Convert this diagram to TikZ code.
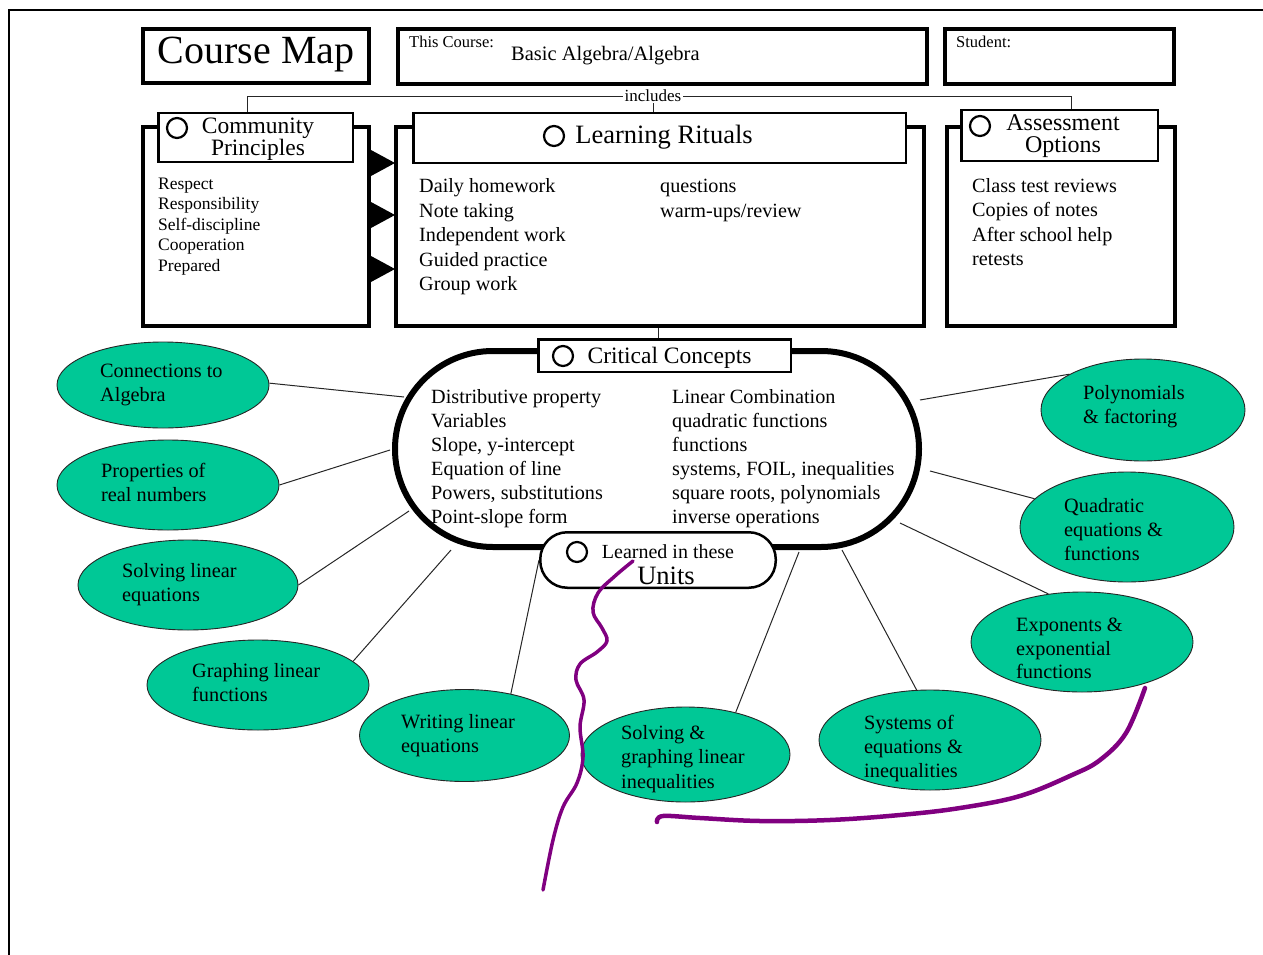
\documentclass[tikz,border=0pt]{standalone}
\usepackage{fontspec}
\setmainfont{Liberation Serif}
\usetikzlibrary{shapes.geometric}
\definecolor{ellfill}{HTML}{00C896}
\definecolor{inkpurple}{HTML}{800080}
\newcommand\fsz[2]{\fontsize{#1}{#2}\selectfont}
\begin{document}
\begin{tikzpicture}[x=1pt,y=-1pt,
  outerbox/.style={draw, line width=4pt, fill=white, inner sep=0},
  hdrbox/.style={draw, line width=2.5pt, fill=white, inner sep=0},
  ring/.style={draw, circle, line width=2.2pt, minimum size=20pt, inner sep=0},
  ell/.style={ellipse, draw=black!85, line width=0.9pt, fill=ellfill, inner sep=0},
  link/.style={draw=black!85, line width=1pt},
  ink/.style={draw=inkpurple, line cap=round, line join=round},
  txt/.style={inner sep=0, anchor=north west, align=left},
  ttl/.style={inner sep=0, align=center},
  tri/.style={fill=black}
]
\useasboundingbox (0,0) rectangle (1263,955);
% page border
\coordinate (pgTR) at (1263,10);
\coordinate (pgTL) at (9,10);
\coordinate (pgBL) at (9,955);
\draw[line width=2pt] (pgTR) -- (pgTL) -- (pgBL);

% top row
\node[outerbox, minimum width=226pt, minimum height=54pt] (cmap) at (256,56) {};
\node[ttl, font=\fsz{40}{44}] (cmapT) at (256,55) {Course Map};
\node[outerbox, minimum width=529pt, minimum height=55pt] (course) at (662.5,56.5) {};
\node[inner sep=0, anchor=base west, font=\fsz{16.5}{18}] (courseL) at (409,47.5) {This Course:};
\node[inner sep=0, anchor=base west, font=\fsz{20.5}{22}] (courseV) at (511,61) {Basic Algebra/Algebra};
\node[outerbox, minimum width=229pt, minimum height=55pt] (student) at (1059.5,56.5) {};
\node[inner sep=0, anchor=base west, font=\fsz{16.5}{18}] (studentL) at (956,47.5) {Student:};

% three boxes
\node[outerbox, minimum width=226pt, minimum height=199pt] (cpBox) at (256,226.5) {};
\node[outerbox, minimum width=528pt, minimum height=199pt] (lrBox) at (660,226.5) {};
\node[outerbox, minimum width=228pt, minimum height=199pt] (aoBox) at (1061,226.5) {};
\node[hdrbox, minimum width=194.5pt, minimum height=48.5pt] (cpHead) at (255.5,137.5) {};
\node[hdrbox, minimum width=492.5pt, minimum height=49.5pt] (lrHead) at (659.5,138) {};
\node[hdrbox, minimum width=196.5pt, minimum height=50.5pt] (aoHead) at (1059.5,135.5) {};

% includes bus
\coordinate (busL) at (247,97);
\coordinate (busR) at (1071,97);
\draw[link] (cpHead.north -| busL) -- (busL) -- (busR) -- (aoHead.north -| busR);
\draw[link] (lrHead.north -| 653,0) -- (653,97);
\node[fill=white, inner sep=2pt, font=\fsz{17}{19}] (incl) at (653,95.5) {includes};

% header contents
\node[ring] (cpRing) at (177,128) {};
\node[ttl, font=\fsz{23.5}{22}] (cpTitle) at (258,139) {Community\\Principles};
\node[ring] (lrRing) at (554,136) {};
\node[ttl, font=\fsz{26.5}{28}] (lrTitle) at (664,137) {Learning Rituals};
\node[ring] (aoRing) at (980,126) {};
\node[ttl, font=\fsz{24}{22}] (aoTitle) at (1063,136.5) {Assessment\\Options};

% lists
\node[txt, font=\fsz{17.5}{20.5}] (cpList) at (158,174.5) {\strut Respect\\Responsibility\\Self-discipline\\Cooperation\\Prepared};
\node[txt, font=\fsz{20.2}{24.5}] (lrListA) at (419,175.3) {\strut Daily homework\\Note taking\\Independent work\\Guided practice\\Group work};
\node[txt, font=\fsz{20.2}{24.5}] (lrListB) at (660,175.3) {\strut questions\\warm-ups/review};
\node[txt, font=\fsz{20.2}{24.4}] (aoList) at (972,175.3) {\strut Class test reviews\\Copies of notes\\After school help\\retests};

% triangles between boxes
\fill[tri] (371,150) -- (395,163) -- (371,176) -- cycle;
\fill[tri] (371,202) -- (395,215) -- (371,228) -- cycle;
\fill[tri] (371,256) -- (395,269) -- (371,282) -- cycle;

% critical concepts
\node[draw, line width=6pt, rounded corners=97.9pt, minimum width=524pt, minimum height=196pt, inner sep=0, fill=white] (cc) at (657,449) {};
\draw[link] (lrBox.south -| 658,0) -- (658,339.25);
\node[hdrbox, minimum width=252.5pt, minimum height=32.5pt] (ccHead) at (664.5,355.5) {};
\node[ring] (ccRing) at (563,356) {};
\node[ttl, font=\fsz{23.5}{26}] (ccTitle) at (669.5,357.5) {Critical Concepts};
\node[txt, font=\fsz{20.2}{24}] (ccListA) at (431,386.7) {\strut Distributive property\\Variables\\Slope, y-intercept\\Equation of line\\Powers, substitutions\\Point-slope form};
\node[txt, font=\fsz{20.2}{24}] (ccListB) at (672,386.7) {\strut Linear Combination\\quadratic functions\\functions\\systems, FOIL, inequalities\\square roots, polynomials\\inverse operations};

% units
\node[hdrbox, rounded corners=27pt, minimum width=235.5pt, minimum height=55.5pt] (units) at (658,560) {};
\node[ring] (unRing) at (577,552) {};
\node[ttl, font=\fsz{20}{22}] (unTitleA) at (668,552) {Learned in these};
\node[ttl, font=\fsz{26.5}{28}] (unTitleB) at (666,576) {Units};

% contact points on critical concepts
\coordinate (c1) at (404,397);
\coordinate (c2) at (390,450);
\coordinate (c3) at (409,511);
\coordinate (c4) at (451,550);
\coordinate (c6) at (799,552);
\coordinate (c7) at (842,550);
\coordinate (c8) at (900,523);
\coordinate (c9) at (930,471);
\coordinate (c10) at (920,400);

% ellipses
\node[ell, minimum width=212pt, minimum height=86pt] (e1) at (163,385) {};
\node[ell, minimum width=222pt, minimum height=90pt] (e2) at (168,485) {};
\node[ell, minimum width=220pt, minimum height=90pt] (e3) at (188,585) {};
\node[ell, minimum width=222pt, minimum height=90pt] (e4) at (258,685) {};
\node[ell, minimum width=210pt, minimum height=92pt] (e5) at (464.5,735.5) {};
\node[ell, minimum width=209pt, minimum height=95pt] (e6) at (685.5,754.5) {};
\node[ell, minimum width=222pt, minimum height=100pt] (e7) at (930,740) {};
\node[ell, minimum width=222pt, minimum height=100pt] (e8) at (1082,642) {};
\node[ell, minimum width=214pt, minimum height=110pt] (e9) at (1127,527) {};
\node[ell, minimum width=204pt, minimum height=102pt] (e10) at (1143,410) {};

% connectors
\draw[link] (e1.1) -- (c1);
\draw[link] (e2.0) -- (c2);
\draw[link] (e3.0) -- (c3);
\draw[link] (e4.14) -- (c4);
\draw[link] (e5.42) -- (units.west);
\draw[link] (e6.40) -- (c6);
\draw[link] (e7.105) -- (c7);
\draw[link] (e8.125) -- (c8);
\draw[link] (e9.163) -- (c9);
\draw[link] (e10.154) -- (c10);

% ellipse texts
\tikzset{etxt/.style={txt, font=\fsz{20.3}{24.5}}}
\node[etxt] (t1) at (100,360) {\strut Connections to\\Algebra};
\node[etxt] (t2) at (101,460) {\strut Properties of\\real numbers};
\node[etxt] (t3) at (122,560) {\strut Solving linear\\equations};
\node[etxt] (t4) at (192,660) {\strut Graphing linear\\functions};
\node[etxt] (t5) at (401,711) {\strut Writing linear\\equations};
\node[etxt] (t6) at (621,722) {\strut Solving \&\\graphing linear\\inequalities};
\node[etxt, font=\fsz{20.3}{24}] (t7) at (864,712) {\strut Systems of\\equations \&\\inequalities};
\node[etxt, font=\fsz{20.3}{23.5}] (t8) at (1016,615) {\strut Exponents \&\\exponential\\functions};
\node[etxt, font=\fsz{20.3}{24}] (t9) at (1064,495) {\strut Quadratic\\equations \&\\functions};
\node[etxt] (t10) at (1083,382) {\strut Polynomials\\\& factoring};

% purple handwriting
\draw[ink, line width=3.5pt] plot[smooth, tension=0.6] coordinates {(633,561) (615,576) (598,593) (593,612) (602,628) (607,641) (597,652) (580,664) (576,680) (584,700) (580,727) (583,757) (577,783) (563,807) (553,840) (543,890)};
\draw[ink, line width=4.5pt] plot[smooth, tension=0.6] coordinates {(657,822) (663,816) (700,818) (760,821) (830,820) (900,815) (960,808) (1020,796) (1072,775) (1100,760) (1126,733) (1145,688)};
\end{tikzpicture}
\end{document}
